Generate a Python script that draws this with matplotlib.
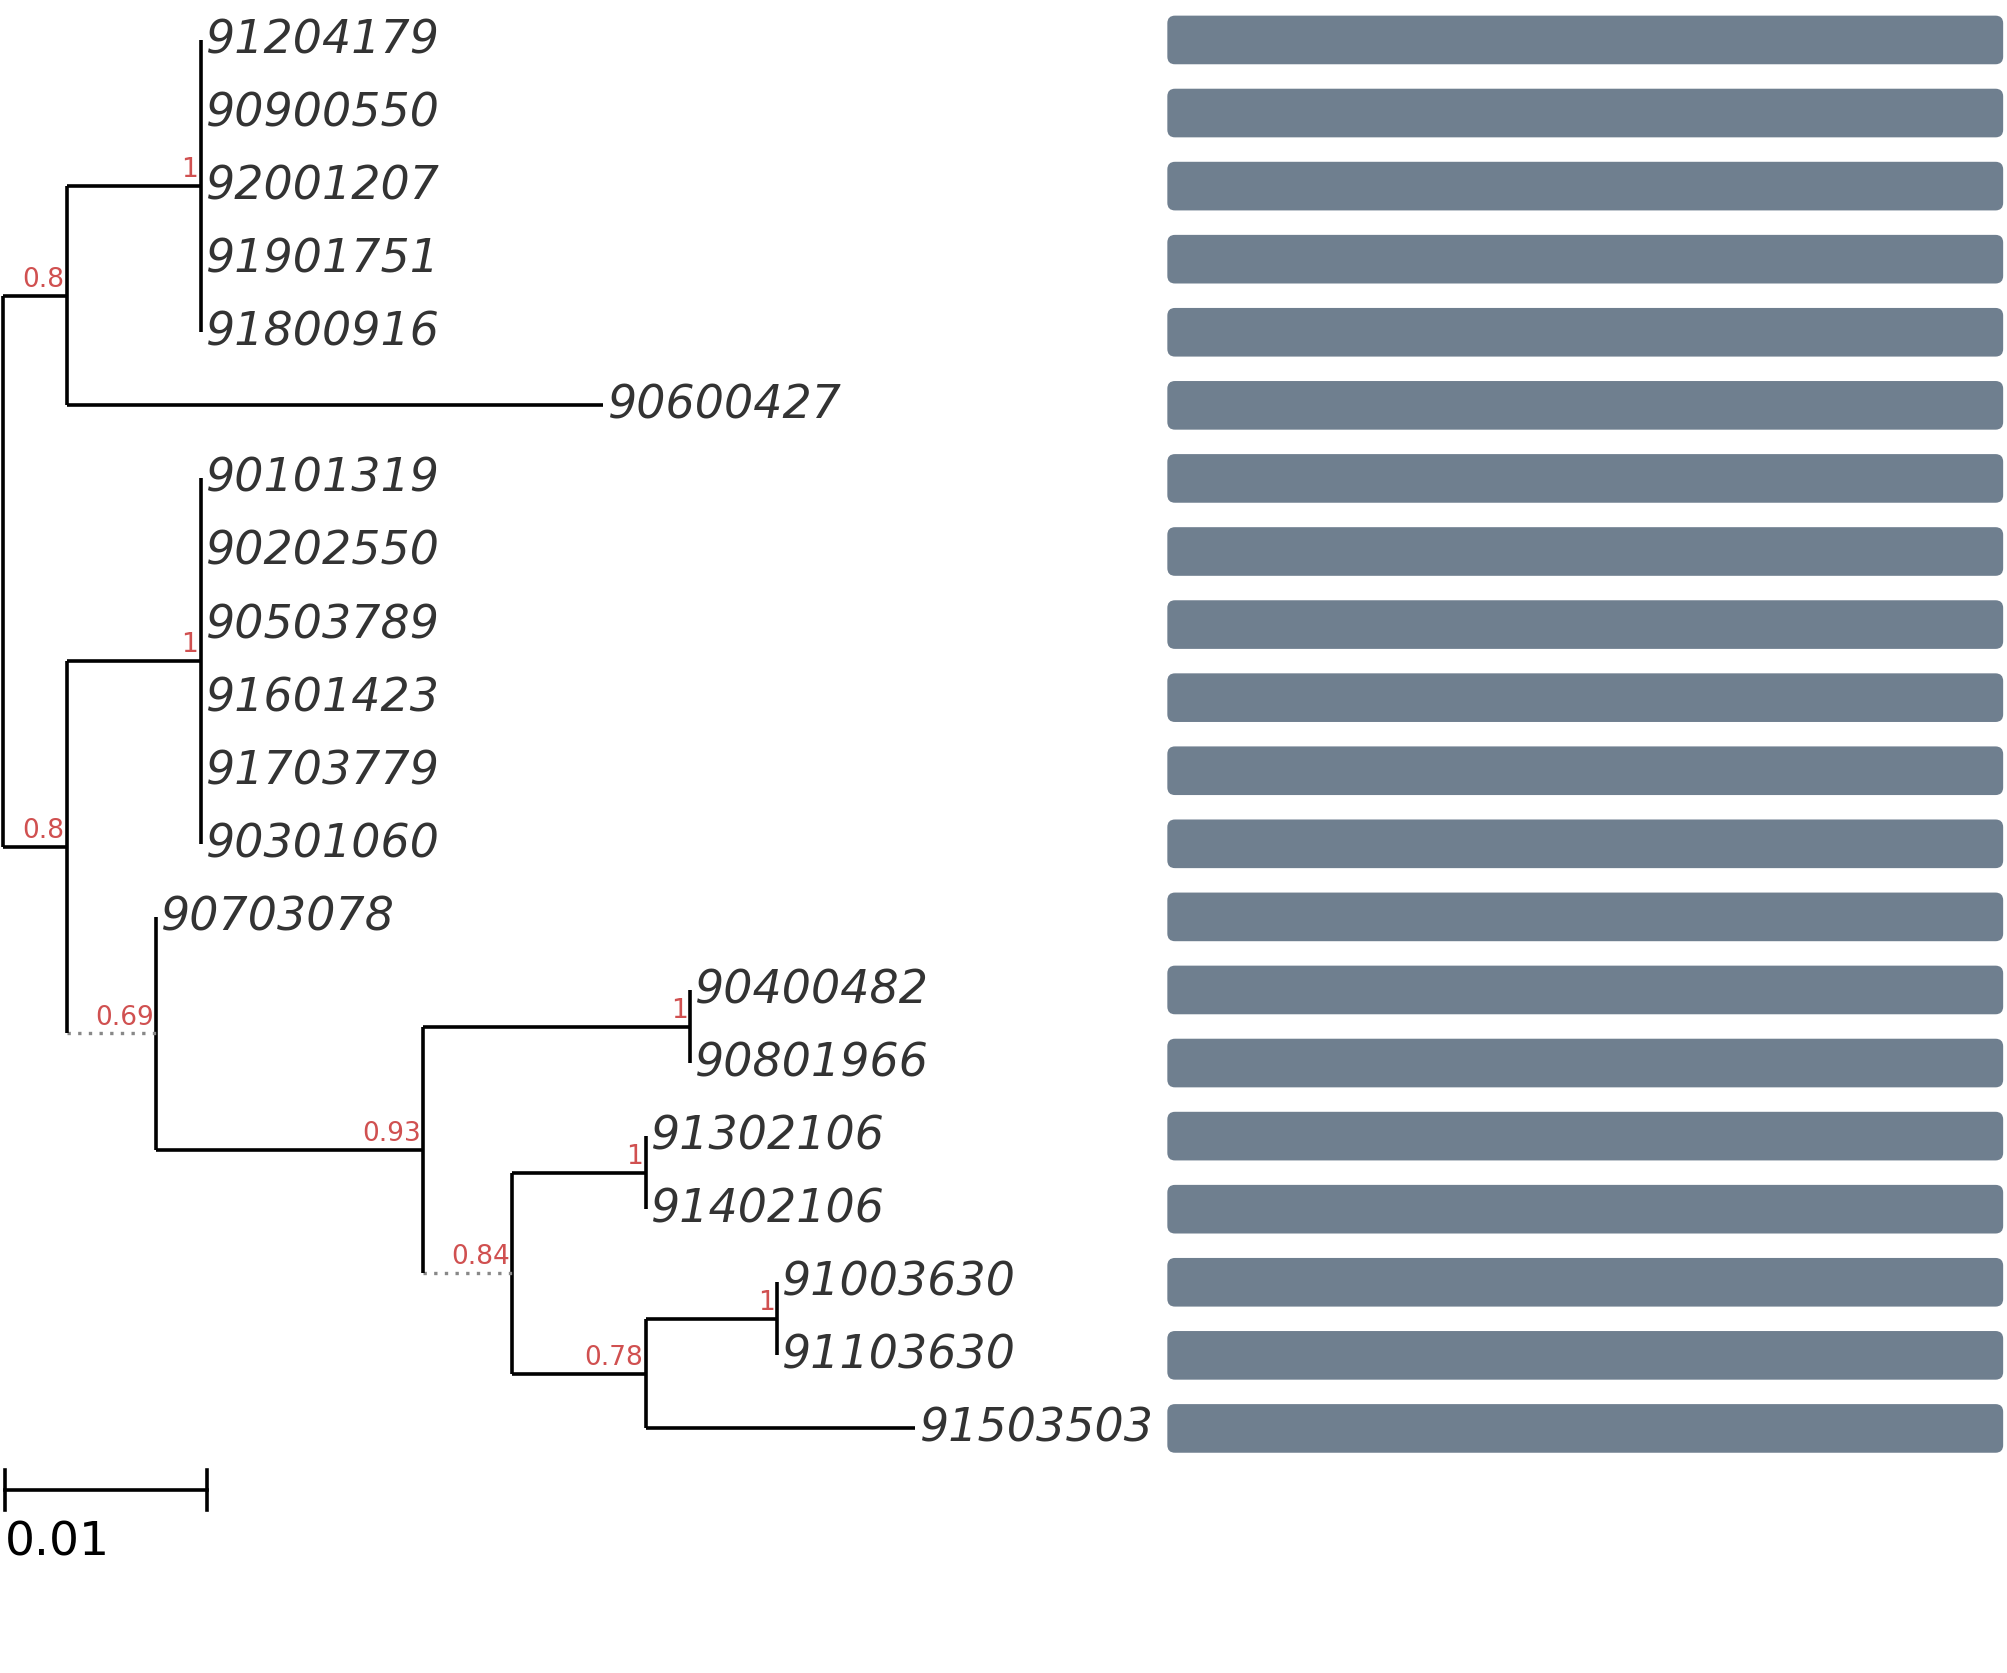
import matplotlib
matplotlib.use("Agg")
import matplotlib.pyplot as plt
from matplotlib.patches import FancyBboxPatch

# tree: (name, branch_length, support, dotted, children)
TREE = ("root", 0.0, None, False, [
    ("A", 0.0032, "0.8", False, [
        ("c1", 0.0066, "1", False, [
            ("91204179", 0, None, False, []),
            ("90900550", 0, None, False, []),
            ("92001207", 0, None, False, []),
            ("91901751", 0, None, False, []),
            ("91800916", 0, None, False, []),
        ]),
        ("90600427", 0.0265, None, False, []),
    ]),
    ("C2", 0.0032, "0.8", False, [
        ("B", 0.0066, "1", False, [
            ("90101319", 0, None, False, []),
            ("90202550", 0, None, False, []),
            ("90503789", 0, None, False, []),
            ("91601423", 0, None, False, []),
            ("91703779", 0, None, False, []),
            ("90301060", 0, None, False, []),
        ]),
        ("N69", 0.0044, "0.69", True, [
            ("90703078", 0, None, False, []),
            ("N93", 0.0132, "0.93", False, [
                ("N1a", 0.0132, "1", False, [
                    ("90400482", 0, None, False, []),
                    ("90801966", 0, None, False, []),
                ]),
                ("N84", 0.0044, "0.84", True, [
                    ("N1b", 0.0066, "1", False, [
                        ("91302106", 0, None, False, []),
                        ("91402106", 0, None, False, []),
                    ]),
                    ("N78", 0.0066, "0.78", False, [
                        ("N1c", 0.0065, "1", False, [
                            ("91003630", 0, None, False, []),
                            ("91103630", 0, None, False, []),
                        ]),
                        ("91503503", 0.0133, None, False, []),
                    ]),
                ]),
            ]),
        ]),
    ]),
])

W, H = 1568, 1308
PX_PER_UNIT = 15800
X0 = 2
Y0, DY = 32, 57.1
BAR_X0, BAR_X1, BAR_H = 912, 1565, 38

fig = plt.figure(figsize=(20.07, 16.74), dpi=100)
ax = fig.add_axes([0, 0, 1, 1])
ax.set_xlim(0, W)
ax.set_ylim(H, 0)
ax.axis("off")

leaf_counter = [0]
LINE = dict(color="black", lw=2.6, solid_capstyle="butt")


def layout(node, x):
    name, bl, sup, dotted, kids = node
    if not kids:
        y = Y0 + DY * leaf_counter[0]
        leaf_counter[0] += 1
        ax.text(x + 4, y, name, fontsize=33, style="italic", color="#333333",
                ha="left", va="center")
        ax.add_patch(FancyBboxPatch((BAR_X0 + 6, y - BAR_H / 2 + 6), BAR_X1 - BAR_X0 - 12,
                                    BAR_H - 12, boxstyle="round,pad=6",
                                    fc="#6f7f8f", ec="none"))
        return y
    ys = []
    for k in kids:
        kx = x + k[1] * PX_PER_UNIT
        ky = layout(k, kx)
        if k[1] > 0:
            if k[3]:
                ax.plot([x, kx], [ky, ky], color="#888888", lw=2.4, ls=(0, (1, 2.2)))
            else:
                ax.plot([x, kx], [ky, ky], **LINE)
        ys.append(ky)
    y = (ys[0] + ys[-1]) / 2
    ax.plot([x, x], [ys[0], ys[-1]], **LINE)
    if sup:
        ax.text(x - 2, y - 3, sup, fontsize=19, color="#d05050", ha="right", va="bottom")
    return y


layout(TREE, X0)

# scale bar
sb_x0, sb_x1, sb_y = 4, 4 + 0.01 * PX_PER_UNIT, 1165
ax.plot([sb_x0, sb_x1], [sb_y, sb_y], color="black", lw=2.6)
ax.plot([sb_x0, sb_x0], [sb_y - 16, sb_y + 16], color="black", lw=2.6)
ax.plot([sb_x1, sb_x1], [sb_y - 16, sb_y + 16], color="black", lw=2.6)
ax.text(sb_x0, 1206, "0.01", fontsize=34, color="black", ha="left", va="center")

fig.savefig("out.png", dpi=100)
